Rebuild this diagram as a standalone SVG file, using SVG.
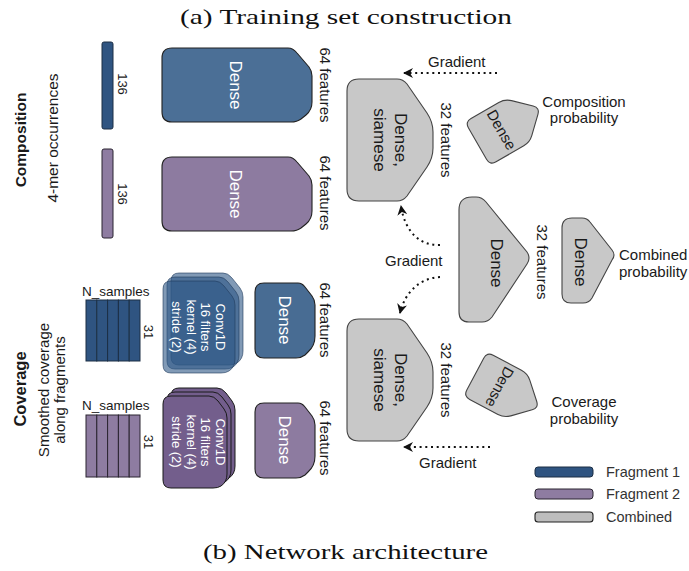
<svg xmlns="http://www.w3.org/2000/svg" width="689" height="571" viewBox="0 0 689 571">
  <style>
    .t { font-family: "Liberation Sans", Arial, sans-serif; fill: #1a1a1a; }
    .title { font-family: "Liberation Serif", "Times New Roman", serif; font-size: 22px; fill: #111; }
    .w { font-family: "Liberation Sans", Arial, sans-serif; fill: #ffffff; }
    .f1 { fill: #2f5481; stroke: #1c2f45; stroke-width: 1; }
    .f2 { fill: #8e7ca1; stroke: #2a2430; stroke-width: 1; }
    .d1 { fill: #4b6f96; stroke: #222; stroke-width: 1.1; }
    .d2 { fill: #8d7ba0; stroke: #222; stroke-width: 1.1; }
    .cb { fill: #2d5686; fill-opacity: 0.6; stroke: #1f3b5c; stroke-opacity: 0.6; stroke-width: 1; }
    .cp { fill: #735e8c; stroke: #1a1a1a; stroke-width: 1; }
    .g { fill: #c8c8c8; stroke: #444; stroke-width: 1.1; }
    .dot { fill: none; stroke: #111; stroke-width: 2; stroke-dasharray: 2 3.7; }
    .rot { dominant-baseline: central; text-anchor: middle; }
  </style>
  <defs>
    <marker id="ah" viewBox="0 0 10 10" refX="9" refY="5" markerWidth="10" markerHeight="10" markerUnits="userSpaceOnUse" orient="auto">
      <path d="M0,0 L10,5 L0,10 L3,5 Z" fill="#111"/>
    </marker>
    <path id="compDense" d="M 172,48 H 288 Q 293,48 297,53 L 309,67 Q 312,71 312,76 V 102 Q 312,110 306,115 L 301,119 Q 297,122 291,122 H 172 Q 162,122 162,112 V 58 Q 162,48 172,48 Z"/>
    <path id="covDense" d="M 264,283 H 298 Q 302,283 305,287 L 312,296 Q 315,300 315,305 V 336 Q 315,346 308,352 L 305,355 Q 301,358 296,358 H 264 Q 255,358 255,349 V 292 Q 255,283 264,283 Z"/>
    <path id="convB" d="M 8,0 H 52 Q 57,0 61,5 L 69,15 Q 72,19 72,24 V 78 Q 72,86 66,90 Q 63,92 58,92 H 8 Q 0,92 0,84 V 8 Q 0,0 8,0 Z"/>
    <path id="convP" d="M 8,0 H 46 Q 51,0 55,5 L 61,13 Q 64,17 64,22 V 78 Q 64,86 58,90 Q 55,92 50,92 H 8 Q 0,92 0,84 V 8 Q 0,0 8,0 Z"/>
    <path id="siamese" d="M 359,79 H 397 Q 403,79 407,84 L 427,113 Q 433,122 433,132 V 148 Q 433,158 427,167 L 407,196 Q 403,201 397,201 H 359 Q 347,201 347,189 V 91 Q 347,79 359,79 Z"/>
    <path id="smallHouse" d="M 0,-7 L 0,-39 Q 0,-46 4.8,-51 L 20.2,-67 Q 25,-72 29.8,-67 L 45.2,-51 Q 50,-46 50,-39 L 50,-7 Q 50,0 43,0 L 7,0 Q 0,0 0,-7 Z"/>
  </defs>

  <!-- captions -->
  <text class="title" x="180" y="24" textLength="332" lengthAdjust="spacingAndGlyphs">(a) Training set construction</text>
  <text class="title" x="203" y="559" textLength="285" lengthAdjust="spacingAndGlyphs">(b) Network architecture</text>

  <!-- input descriptions -->
  <g id="label-composition">
    <text class="t rot" transform="translate(20,140) rotate(-90)" font-size="15.5" font-weight="bold">Composition</text>
    <text class="t rot" transform="translate(52.5,138) rotate(-90)" font-size="15.5">4-mer occurrences</text>
  </g>
  <g id="label-coverage">
    <text class="t rot" transform="translate(20,389) rotate(-90)" font-size="16.5" font-weight="bold">Coverage</text>
    <text class="t rot" transform="translate(43,390) rotate(-90)" font-size="15">Smoothed coverage</text>
    <text class="t rot" transform="translate(59.5,390) rotate(-90)" font-size="15">along fragments</text>
  </g>

  <!-- composition inputs -->
  <g id="comp-input-1">
    <rect class="f1" x="102" y="42" width="11" height="87" rx="2"/>
    <text class="t rot" transform="translate(122,84) rotate(90)" font-size="13">136</text>
  </g>
  <g id="comp-input-2">
    <rect class="f2" x="102" y="149" width="11" height="89" rx="2"/>
    <text class="t rot" transform="translate(122,194) rotate(90)" font-size="13">136</text>
  </g>

  <!-- composition dense layers -->
  <g id="comp-dense-1">
    <use href="#compDense" class="d1"/>
    <text class="w rot" transform="translate(235,85) rotate(90)" font-size="17">Dense</text>
    <text class="t rot" transform="translate(325,85) rotate(90)" font-size="15">64 features</text>
  </g>
  <g id="comp-dense-2">
    <use href="#compDense" class="d2" transform="translate(0,109)"/>
    <text class="w rot" transform="translate(235,194) rotate(90)" font-size="17">Dense</text>
    <text class="t rot" transform="translate(325,193) rotate(90)" font-size="15">64 features</text>
  </g>

  <!-- coverage inputs -->
  <g id="cov-input-1">
    <text class="t" x="82" y="296" font-size="13.5">N_samples</text>
    <g class="f1" stroke="#1a1a1a">
      <rect x="86" y="300" width="10.8" height="61"/>
      <rect x="96.8" y="300" width="10.8" height="61"/>
      <rect x="107.6" y="300" width="10.8" height="61"/>
      <rect x="118.4" y="300" width="10.8" height="61"/>
      <rect x="129.2" y="300" width="10.8" height="61"/>
    </g>
    <text class="t rot" transform="translate(148,332) rotate(90)" font-size="13">31</text>
  </g>
  <g id="cov-input-2">
    <text class="t" x="82" y="410" font-size="13.5">N_samples</text>
    <g class="f2" stroke="#1a1a1a">
      <rect x="86" y="415" width="10.8" height="62"/>
      <rect x="96.8" y="415" width="10.8" height="62"/>
      <rect x="107.6" y="415" width="10.8" height="62"/>
      <rect x="118.4" y="415" width="10.8" height="62"/>
      <rect x="129.2" y="415" width="10.8" height="62"/>
    </g>
    <text class="t rot" transform="translate(148,442) rotate(90)" font-size="13">31</text>
  </g>

  <!-- convolution stacks -->
  <g id="conv-1">
    <use href="#convB" class="cb" transform="translate(171,273)"/>
    <use href="#convB" class="cb" transform="translate(167,277)"/>
    <use href="#convB" class="cb" transform="translate(163,281)"/>
    <g font-size="13">
      <text class="w rot" transform="translate(220,327) rotate(90)">Conv1D</text>
      <text class="w rot" transform="translate(205.5,327) rotate(90)">16 filters</text>
      <text class="w rot" transform="translate(191,327) rotate(90)">kernel (4)</text>
      <text class="w rot" transform="translate(176.5,327) rotate(90)">stride (2)</text>
    </g>
  </g>
  <g id="conv-2">
    <use href="#convP" class="cp" transform="translate(171,388)"/>
    <use href="#convP" class="cp" transform="translate(167,392)"/>
    <use href="#convP" class="cp" transform="translate(163,396)"/>
    <g font-size="13">
      <text class="w rot" transform="translate(220,442) rotate(90)">Conv1D</text>
      <text class="w rot" transform="translate(205.5,442) rotate(90)">16 filters</text>
      <text class="w rot" transform="translate(191,442) rotate(90)">kernel (4)</text>
      <text class="w rot" transform="translate(176.5,442) rotate(90)">stride (2)</text>
    </g>
  </g>

  <!-- coverage dense layers -->
  <g id="cov-dense-1">
    <use href="#covDense" class="d1" style="fill:#486c93"/>
    <text class="w rot" transform="translate(284,320) rotate(90)" font-size="17">Dense</text>
    <text class="t rot" transform="translate(325,320) rotate(90)" font-size="15">64 features</text>
  </g>
  <g id="cov-dense-2">
    <use href="#covDense" class="d2" transform="translate(0,120)"/>
    <text class="w rot" transform="translate(284,440) rotate(90)" font-size="17">Dense</text>
    <text class="t rot" transform="translate(325,438) rotate(90)" font-size="15">64 features</text>
  </g>

  <!-- siamese layers -->
  <g id="siamese-comp">
    <use href="#siamese" class="g"/>
    <text class="t rot" transform="translate(400,140) rotate(90)" font-size="17">Dense,</text>
    <text class="t rot" transform="translate(379,140) rotate(90)" font-size="17">siamese</text>
    <text class="t rot" transform="translate(446,140) rotate(90)" font-size="15">32 features</text>
  </g>
  <g id="siamese-cov">
    <use href="#siamese" class="g" transform="translate(0,240)"/>
    <text class="t rot" transform="translate(400,380) rotate(90)" font-size="17">Dense,</text>
    <text class="t rot" transform="translate(379,380) rotate(90)" font-size="17">siamese</text>
    <text class="t rot" transform="translate(446,380) rotate(90)" font-size="15">32 features</text>
  </g>

  <!-- output heads -->
  <g id="comp-output">
    <g transform="translate(465,122) rotate(60)">
      <use href="#smallHouse" class="g"/>
      <text class="t rot" x="25" y="-28" font-size="15">Dense</text>
    </g>
    <text class="t" x="584" y="106.5" font-size="15" text-anchor="middle">Composition</text>
    <text class="t" x="584" y="123" font-size="15" text-anchor="middle">probability</text>
  </g>
  <g id="combined-dense">
    <path class="g" d="M 459,210 Q 459,197 472,197 H 476 Q 482,197 486,202 L 527,252 Q 531,258 527,264 L 492,317 Q 488,322 482,322 H 469 Q 459,322 459,312 Z"/>
    <text class="t rot" transform="translate(496,263) rotate(90)" font-size="17">Dense</text>
    <text class="t rot" transform="translate(542,262) rotate(90)" font-size="15">32 features</text>
  </g>
  <g id="combined-output">
    <path class="g" d="M 562,228 Q 562,218 572,218 H 582 Q 587,218 590,222 L 612,250 Q 616,255 612,260 L 592,298 Q 589,303 583,303 H 571 Q 562,303 562,294 Z"/>
    <text class="t rot" transform="translate(580,262) rotate(90)" font-size="17">Dense</text>
    <text class="t" x="619" y="260" font-size="15">Combined</text>
    <text class="t" x="619" y="277" font-size="15">probability</text>
  </g>
  <g id="cov-output">
    <g transform="translate(487,352) rotate(118)">
      <use href="#smallHouse" class="g"/>
      <text class="t rot" x="25" y="-28" font-size="15">Dense</text>
    </g>
    <text class="t" x="584" y="407" font-size="15" text-anchor="middle">Coverage</text>
    <text class="t" x="584" y="424" font-size="15" text-anchor="middle">probability</text>
  </g>

  <!-- gradient flow -->
  <g id="connectors">
    <path class="dot" d="M 497,73 L 404,73" marker-end="url(#ah)"/>
    <path class="dot" d="M 440,245 C 420,246 405,232 401,206" marker-end="url(#ah)"/>
    <path class="dot" d="M 440,277 C 420,278 405,292 400,313" marker-end="url(#ah)"/>
    <path class="dot" d="M 490,447 L 404,447" marker-end="url(#ah)"/>
    <text class="t" x="428" y="67" font-size="15" fill="#333">Gradient</text>
    <text class="t" x="385" y="266" font-size="15">Gradient</text>
    <text class="t" x="419" y="468" font-size="15">Gradient</text>
  </g>

  <!-- legend -->
  <g id="legend">
    <rect class="f1" x="535" y="467" width="58" height="10" rx="3"/>
    <rect class="f2" x="535" y="489" width="58" height="10" rx="3"/>
    <rect class="g" x="535" y="512" width="58" height="10" rx="3" style="fill:#bdbdbd;stroke:#222"/>
    <text class="t" x="606" y="477" font-size="14.5" style="fill:#333">Fragment 1</text>
    <text class="t" x="606" y="499" font-size="14.5" style="fill:#333">Fragment 2</text>
    <text class="t" x="606" y="522" font-size="14.5" style="fill:#333">Combined</text>
  </g>
</svg>
